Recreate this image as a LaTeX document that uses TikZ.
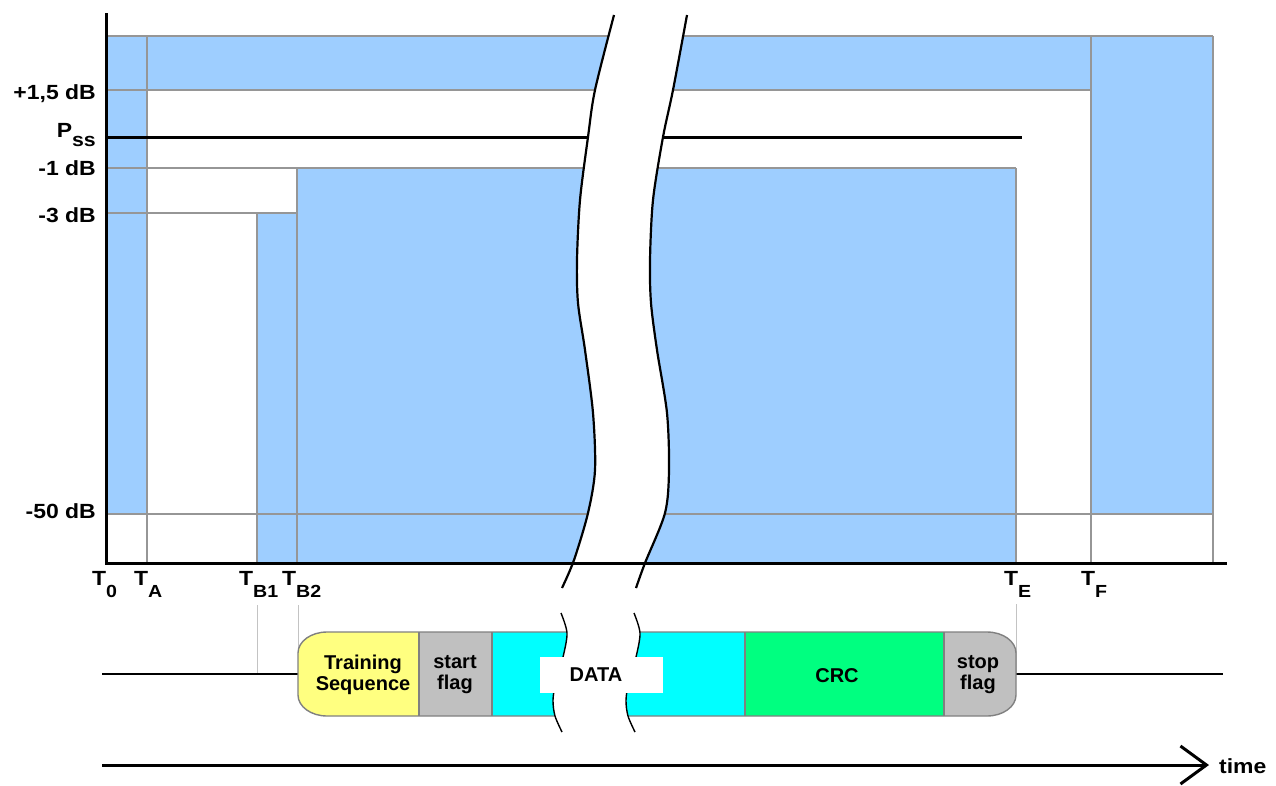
\documentclass[tikz,border=0pt]{standalone}
\usepackage{fontspec}
\setmainfont{Liberation Sans}
\newfontfamily\labfont{Liberation Sans}[FakeStretch=1.12]
\usetikzlibrary{arrows.meta}
\definecolor{blu}{RGB}{158,206,255}
\definecolor{gridgray}{RGB}{150,150,150}
\definecolor{thingray}{RGB}{195,195,195}
\definecolor{yel}{RGB}{255,255,128}
\definecolor{pgray}{RGB}{192,192,192}
\definecolor{cyn}{RGB}{0,255,255}
\definecolor{grn}{RGB}{0,255,128}
\definecolor{pkout}{RGB}{128,128,128}
\newcommand\mysub[2][12pt]{\raisebox{-#1}{\fontsize{17.5}{17.5}\selectfont #2}}
\newcommand\pktpath{(327,632) -- (987,632) arc[start angle=90,end angle=0,x radius=29pt,y radius=21pt] -- (1016,695) arc[start angle=0,end angle=-90,x radius=29pt,y radius=21pt] -- (327,716) arc[start angle=-90,end angle=-180,x radius=29pt,y radius=21pt] -- (298,653) arc[start angle=180,end angle=90,x radius=29pt,y radius=21pt] -- cycle}
\begin{document}
\begin{tikzpicture}[x=1pt,y=-1pt,
  gridln/.style={draw=gridgray,line width=1.6pt},
  thinln/.style={draw=thingray,line width=1pt},
  bluefill/.style={fill=blu},
  lab/.style={font=\labfont\bfseries\fontsize{20.5}{21}\selectfont,inner sep=0pt},
  pktxt/.style={font=\bfseries\fontsize{20}{21}\selectfont,align=center,inner sep=0pt},
  brk/.style={draw=black,line width=2.2pt},
  sqg/.style={draw=black,line width=1.4pt},
  pkline/.style={draw=pkout,line width=1.4pt},
  axisln/.style={draw=black,line width=3pt},
  sigln/.style={draw=black,line width=1.5pt}]
\useasboundingbox (0,0) rectangle (1276,785);
% blue areas
\fill[bluefill] (106,36) rectangle (147,514);
\fill[bluefill] (147,36) rectangle (1091,90);
\fill[bluefill] (1091,36) rectangle (1213,514);
\fill[bluefill] (257,213) rectangle (297,563);
\fill[bluefill] (297,168) rectangle (1016,563);
% grid lines
\draw[gridln] (106,36) -- (1213,36);
\draw[gridln] (106,90) -- (1091,90);
\draw[gridln] (106,168) -- (1016,168);
\draw[gridln] (106,213) -- (297,213);
\draw[gridln] (106,514) -- (1213,514);
\draw[gridln] (147,36) -- (147,563);
\draw[gridln] (257,213) -- (257,563);
\draw[gridln] (297,168) -- (297,563);
\draw[gridln] (1016,168) -- (1016,563);
\draw[gridln] (1091,36) -- (1091,563);
\draw[gridln] (1213,36) -- (1213,563);
% Pss line
\coordinate (pssa) at (106,137);
\coordinate (pssb) at (1022,137);
\draw[draw=black,line width=3pt] (pssa) -- (pssb);
% break
\fill[white] plot[smooth] coordinates {(614,15) (595,90) (588,137) (580,200) (577,260) (578,303) (585,350) (593,413) (595,470) (588,513) (574,560) (562,588)} -- plot[smooth] coordinates {(636,588) (645,563) (665,513) (669,470) (667,413) (657,350) (651,303) (650,260) (653,200) (663,137) (673,90) (687,15)} -- cycle;
\draw[brk] plot[smooth] coordinates {(614,15) (595,90) (588,137) (580,200) (577,260) (578,303) (585,350) (593,413) (595,470) (588,513) (574,560) (562,588)};
\draw[brk] plot[smooth] coordinates {(687,15) (673,90) (663,137) (653,200) (650,260) (651,303) (657,350) (667,413) (669,470) (665,513) (645,563) (636,588)};
% axes
\coordinate (otop) at (106,13);
\coordinate (orig) at (106,563);
\coordinate (xend) at (1227,563);
\draw[axisln] (otop) -- (orig) -- (xend);
% level labels
\node[lab,anchor=base east] (l15) at (96,99) {+1,5 dB};
\node[lab,anchor=base east] (lpss) at (96,137) {P\mysub[9pt]{\fontsize{19}{19}\selectfont ss}};
\node[lab,anchor=base east] (l1) at (96,175) {-1 dB};
\node[lab,anchor=base east] (l3) at (96,222) {-3 dB};
\node[lab,anchor=base east] (l50) at (96,518) {-50 dB};
% time labels
\node[lab,anchor=base west] (t0) at (92,585) {T\mysub{0}};
\node[lab,anchor=base west] (ta) at (134,585) {T\mysub{A}};
\node[lab,anchor=base west] (tb1) at (239,585) {T\mysub{B1}};
\node[lab,anchor=base west] (tb2) at (282,585) {T\mysub{B2}};
\node[lab,anchor=base west] (tE) at (1004,585) {T\mysub{E}};
\node[lab,anchor=base west] (tF) at (1081,585) {T\mysub{F}};
% packet guide lines
\coordinate (g1a) at (257,605); \coordinate (g1b) at (257,674);
\coordinate (g2a) at (298,605); \coordinate (g2b) at (298,660);
\coordinate (g3a) at (1016,604); \coordinate (g3b) at (1016,674);
\draw[thinln] (g1a) -- (g1b);
\draw[thinln] (g2a) -- (g2b);
\draw[thinln] (g3a) -- (g3b);
\coordinate (s1a) at (102,674); \coordinate (s1b) at (300,674);
\coordinate (s2a) at (1014,674); \coordinate (s2b) at (1223,674);
\draw[sigln] (s1a) -- (s1b);
\draw[sigln] (s2a) -- (s2b);
% packet
\begin{scope}
\clip \pktpath;
\fill[yel] (290,625) rectangle (419,720);
\fill[pgray] (419,625) rectangle (492,720);
\fill[cyn] (492,625) rectangle (745,720);
\fill[grn] (745,625) rectangle (944,720);
\fill[pgray] (944,625) rectangle (1025,720);
\end{scope}
\draw[pkline] \pktpath;
\draw[pkline] (419,632) -- (419,716);
\draw[pkline] (492,632) -- (492,716);
\draw[pkline] (745,632) -- (745,716);
\draw[pkline] (944,632) -- (944,716);
% packet break
\fill[white] plot[smooth] coordinates {(561,613) (567,633) (563,657) (556,680) (553,700) (555,716) (562,732)} -- plot[smooth] coordinates {(635,732) (628,716) (626,700) (629,680) (636,657) (640,633) (634,613)} -- cycle;
\draw[sqg] plot[smooth] coordinates {(561,613) (567,633) (563,657) (556,680) (553,700) (555,716) (562,732)};
\draw[sqg] plot[smooth] coordinates {(634,613) (640,633) (636,657) (629,680) (626,700) (628,716) (635,732)};
\fill[white] (540,657) rectangle (663,693);
% packet texts
\node[pktxt] (ts) at (363,675) {Training\\Sequence};
\node[pktxt] (sf) at (455,675) {start\\flag};
\node[pktxt] (dt) at (596,675) {DATA};
\node[pktxt] (crc) at (837,676) {CRC};
\node[pktxt] (stf) at (978,675) {stop\\flag};
% time arrow
\coordinate (ta0) at (102,765);
\coordinate (ta1) at (1209,765);
\draw[axisln,-{Straight Barb[length=26pt,width=38pt]}] (ta0) -- (ta1);
\node[lab,anchor=base west] (tm) at (1219,773) {time};
\end{tikzpicture}
\end{document}
